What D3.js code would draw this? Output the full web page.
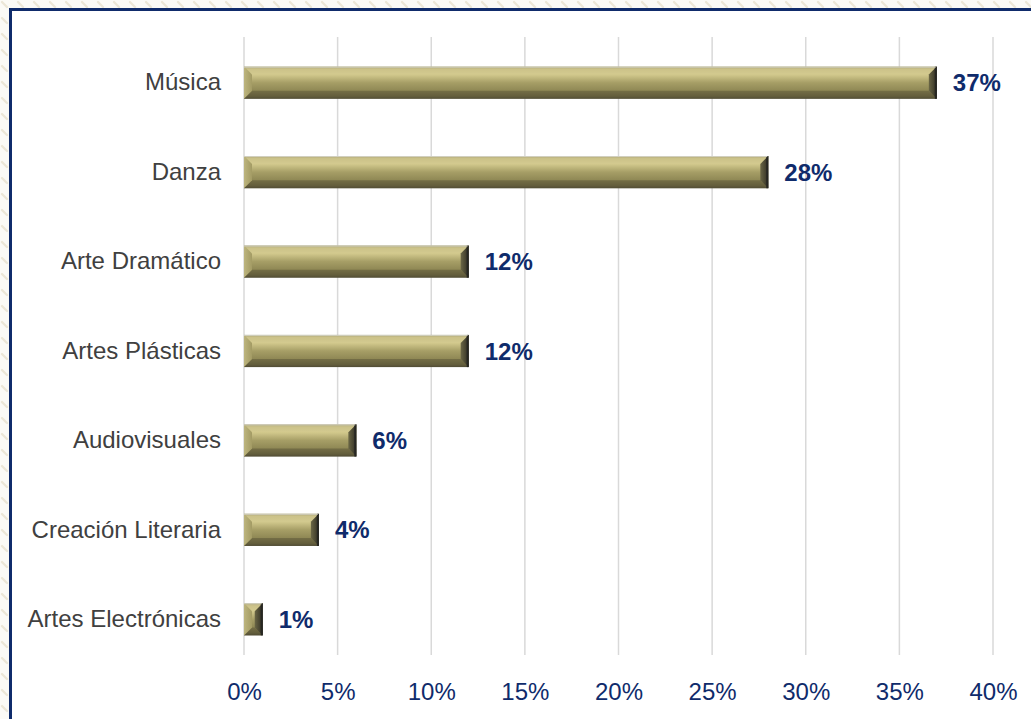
<!DOCTYPE html>
<html>
<head>
<meta charset="utf-8">
<script src="https://cdn.jsdelivr.net/npm/d3@7/dist/d3.min.js"></script>
<style>
  html, body { margin: 0; padding: 0; background: #ffffff; }
  svg { display: block; }
</style>
</head>
<body>
<svg id="chart" width="1031" height="719"></svg>
<script>
// Disciplinas artísticas: share of respondents
const categories = ["Música", "Danza", "Arte Dramático", "Artes Plásticas", "Audiovisuales", "Creación Literaria", "Artes Electrónicas"];
const values = [37, 28, 12, 12, 6, 4, 1];
const tickValues = [0, 5, 10, 15, 20, 25, 30, 35, 40];

const W = 1031, H = 719;
const FONT = "Liberation Sans, Arial, sans-serif";
const svg = d3.select("#chart");
const defs = svg.append("defs");

// faint diagonal hatch around the framed panel
const pat = defs.append("pattern")
  .attr("id", "hatch").attr("patternUnits", "userSpaceOnUse")
  .attr("width", 16).attr("height", 16);
pat.append("rect").attr("width", 16).attr("height", 16).attr("fill", "#fbfaf6");
pat.append("line").attr("x1", 2).attr("y1", 2).attr("x2", 7).attr("y2", 7)
  .attr("stroke", "#ebe6d6").attr("stroke-width", 2.2).attr("stroke-linecap", "round");
pat.append("line").attr("x1", 10).attr("y1", 10).attr("x2", 15).attr("y2", 15)
  .attr("stroke", "#ebe6d6").attr("stroke-width", 2.2).attr("stroke-linecap", "round");

svg.append("rect").attr("width", W).attr("height", H).attr("fill", "url(#hatch)");
svg.append("rect")
  .attr("x", 10.5).attr("y", 9.5).attr("width", W + 20).attr("height", H + 20)
  .attr("fill", "#ffffff").attr("stroke", "#0f2b6b").attr("stroke-width", 3);

// body gradient of the bevelled bars
const body = defs.append("linearGradient").attr("id", "barBody")
  .attr("x1", 0).attr("y1", 0).attr("x2", 0).attr("y2", 1);
[["0%", "#9a956c"], ["8%", "#c4bb82"], ["26%", "#d0c78b"], ["50%", "#a69e66"],
 ["76%", "#8e8754"], ["92%", "#746e45"], ["100%", "#56523a"]]
  .forEach(([o, c]) => body.append("stop").attr("offset", o).attr("stop-color", c));

const rightG = defs.append("linearGradient").attr("id", "barRight")
  .attr("x1", 0).attr("y1", 0).attr("x2", 1).attr("y2", 0);
[["0%", "#6a6645"], ["65%", "#45422f"], ["100%", "#22221d"]]
  .forEach(([o, c]) => rightG.append("stop").attr("offset", o).attr("stop-color", c));

const leftG = defs.append("linearGradient").attr("id", "barLeft")
  .attr("x1", 0).attr("y1", 0).attr("x2", 1).attr("y2", 0);
[["0%", "#bdb57e"], ["100%", "#a39b64"]]
  .forEach(([o, c]) => leftG.append("stop").attr("offset", o).attr("stop-color", c));

const x = d3.scaleLinear().domain([0, 40]).range([244, 993]);
const y = d3.scaleBand().domain(categories).range([38, 664]).paddingInner(0.64).paddingOuter(0.32);

// vertical gridlines
svg.append("g").selectAll("line").data(tickValues).join("line")
  .attr("x1", d => x(d)).attr("x2", d => x(d))
  .attr("y1", 37).attr("y2", 655)
  .attr("stroke", "#d9d9d9").attr("stroke-width", 1.5);

// x axis labels
const xAxis = d3.axisBottom(x).tickValues(tickValues).tickFormat(d => d + "%").tickSize(0).tickPadding(0);
const gx = svg.append("g").attr("transform", "translate(0,683)").call(xAxis);
gx.select(".domain").remove();
gx.selectAll("text")
  .attr("font-family", FONT)
  .attr("font-size", 24).attr("fill", "#0f2b6b").attr("dy", "0.71em");

// category labels
const yAxis = d3.axisLeft(y).tickSize(0).tickPadding(0);
const gy = svg.append("g").attr("transform", "translate(221,0)").call(yAxis);
gy.select(".domain").remove();
gy.selectAll("text")
  .attr("font-family", FONT)
  .attr("font-size", 24).attr("fill", "#404040");

// bevelled bars
const bars = svg.append("g").selectAll("g").data(categories.map((c, i) => ({ c, v: values[i] }))).join("g");
bars.each(function (d) {
  const g = d3.select(this);
  const x0 = x(0), x1 = x(d.v), y0 = y(d.c), y1 = y(d.c) + y.bandwidth();
  const b = Math.min(8, (x1 - x0) / 2, (y1 - y0) / 2);
  const poly = pts => pts.map(p => p.join(",")).join(" ");
  g.append("rect").attr("x", x0).attr("y", y0).attr("width", x1 - x0).attr("height", y1 - y0)
    .attr("fill", "url(#barBody)");
  // top facet
  g.append("polygon").attr("points", poly([[x0, y0], [x1, y0], [x1 - b, y0 + b], [x0 + b, y0 + b]]))
    .attr("fill", "#ddd49c").attr("opacity", 0.3);
  // bottom facet
  g.append("polygon").attr("points", poly([[x0, y1], [x1, y1], [x1 - b, y1 - b], [x0 + b, y1 - b]]))
    .attr("fill", "#4a4630").attr("opacity", 0.4);
  // left facet
  g.append("polygon").attr("points", poly([[x0, y0], [x0 + b, y0 + b], [x0 + b, y1 - b], [x0, y1]]))
    .attr("fill", "url(#barLeft)");
  // right facet
  g.append("polygon").attr("points", poly([[x1, y0], [x1 - b, y0 + b], [x1 - b, y1 - b], [x1, y1]]))
    .attr("fill", "url(#barRight)");
  g.append("line").attr("x1", x1 - 1).attr("x2", x1 - 1).attr("y1", y0).attr("y2", y1)
    .attr("stroke", "#262622").attr("stroke-width", 2);
  // top edge highlight
  g.append("line").attr("x1", x0).attr("x2", x1 - 1).attr("y1", y0 + 0.5).attr("y2", y0 + 0.5)
    .attr("stroke", "#d2d0c2").attr("stroke-width", 1);
});

// value labels
svg.append("g").selectAll("text").data(categories.map((c, i) => ({ c, v: values[i] }))).join("text")
  .attr("x", d => x(d.v) + 16)
  .attr("y", d => y(d.c) + y.bandwidth() / 2)
  .attr("dy", "0.36em")
  .attr("font-family", FONT)
  .attr("font-weight", "bold").attr("font-size", 24).attr("fill", "#0f2b6b")
  .text(d => d.v + "%");
</script>
</body>
</html>
